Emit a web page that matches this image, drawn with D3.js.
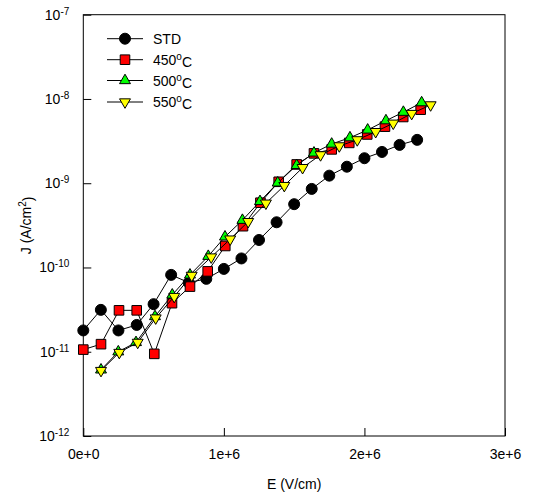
<!DOCTYPE html>
<html>
<head>
<meta charset="utf-8">
<script src="https://cdn.jsdelivr.net/npm/d3@7"></script>
<style>
  body { margin: 0; background: #fff; }
  svg text { font-family: "Liberation Sans", Arial, sans-serif; }
</style>
</head>
<body>
<div id="chart"></div>
<script>
//----------------------------------------------------------------
// data (E in V/cm, J in A/cm2)
var eStd = [0, 1.25e5, 2.5e5, 3.8e5, 5.0e5, 6.25e5, 7.5e5, 8.75e5, 1.0e6, 1.125e6,
            1.25e6, 1.375e6, 1.5e6, 1.625e6, 1.75e6, 1.875e6, 2.0e6, 2.125e6, 2.25e6, 2.375e6];
var jStd = [1.79e-11, 3.14e-11, 1.79e-11, 2.08e-11, 3.67e-11, 8.17e-11, 6.62e-11, 7.33e-11, 9.62e-11, 1.28e-10,
            2.12e-10, 3.44e-10, 5.64e-10, 8.56e-10, 1.23e-9, 1.57e-9, 1.98e-9, 2.35e-9, 2.85e-9, 3.27e-9];

var e450 = [0, 1.26e5, 2.54e5, 3.8e5, 5.05e5, 6.31e5, 7.59e5, 8.85e5, 1.01e6, 1.136e6,
            1.26e6, 1.39e6, 1.518e6, 1.641e6, 1.767e6, 1.892e6, 2.02e6, 2.146e6, 2.276e6, 2.4e6];
var j450 = [1.06e-11, 1.23e-11, 3.10e-11, 3.10e-11, 9.44e-12, 3.77e-11, 5.93e-11, 8.99e-11, 1.80e-10, 3.09e-10,
            5.87e-10, 1.04e-9, 1.67e-9, 2.26e-9, 2.52e-9, 3.01e-9, 3.79e-9, 4.69e-9, 6.11e-9, 7.46e-9];

var e500 = [1.26e5, 2.49e5, 3.75e5, 5.1e5, 6.33e5, 7.59e5, 8.89e5, 1.008e6, 1.132e6, 1.257e6,
            1.383e6, 1.518e6, 1.641e6, 1.767e6, 1.897e6, 2.023e6, 2.153e6, 2.277e6, 2.407e6];
var j500 = [6.10e-12, 1.00e-11, 1.29e-11, 2.62e-11, 4.73e-11, 8.17e-11, 1.36e-10, 2.31e-10, 3.64e-10, 6.08e-10,
            1.01e-9, 1.63e-9, 2.29e-9, 2.92e-9, 3.47e-9, 4.29e-9, 5.53e-9, 6.97e-9, 9.04e-9];

var e550 = [1.26e5, 2.56e5, 3.87e5, 5.15e5, 6.47e5, 7.71e5, 9.1e5, 1.045e6, 1.173e6, 1.299e6,
            1.43e6, 1.56e6, 1.688e6, 1.821e6, 1.949e6, 2.08e6, 2.205e6, 2.336e6, 2.471e6];
var j550 = [5.98e-12, 9.79e-12, 1.29e-11, 2.51e-11, 4.52e-11, 8.05e-11, 1.33e-10, 2.17e-10, 3.50e-10, 5.79e-10,
            9.37e-10, 1.53e-9, 2.17e-9, 2.77e-9, 3.27e-9, 4.09e-9, 5.15e-9, 6.71e-9, 8.49e-9];

var xTicks = [0, 1e6, 2e6, 3e6];
var xTickLabels = ["0e+0", "1e+6", "2e+6", "3e+6"];
var yTicks = [1e-12, 1e-11, 1e-10, 1e-9, 1e-8, 1e-7];
var yTickExp = ["-12", "-11", "-10", "-9", "-8", "-7"];

var seriesNames = ["STD", "450", "500", "550"];

//----------------------------------------------------------------
// svg + scales
var largeur = 533, hauteur = 495;
var svg = d3.select("#chart").append("svg")
    .attr("width", largeur)
    .attr("height", hauteur);

var mLeft = 83.3, mRight = 505, mTop = 14.7, mBottom = 436;

var x = d3.scaleLinear().domain([0, 3e6]).range([mLeft, mRight]);
var y = d3.scaleLog().domain([1e-12, 1e-7]).range([mBottom, mTop]);

//----------------------------------------------------------------
// axes (ticks pointing inward)
var xAxis = d3.axisBottom(x)
    .tickValues(xTicks)
    .tickSize(-8)
    .tickPadding(13)
    .tickFormat(function(d, i) { return xTickLabels[i]; });

var gx = svg.append("g")
    .attr("transform", "translate(0," + mBottom + ")")
    .call(xAxis);
gx.select(".domain").remove();
gx.selectAll("text").style("font-size", "14px").attr("fill", "#000");
gx.selectAll("line").attr("stroke", "#000");

var yAxis = d3.axisLeft(y)
    .tickValues(yTicks)
    .tickSize(-8)
    .tickPadding(14)
    .tickFormat(function() { return ""; });

var gy = svg.append("g")
    .attr("transform", "translate(" + mLeft + ",0)")
    .call(yAxis);
gy.select(".domain").remove();
gy.selectAll("line").attr("stroke", "#000");
gy.selectAll(".tick text").each(function(d, i) {
    var t = d3.select(this).text(null).style("font-size", "14px").attr("fill", "#000");
    t.append("tspan").text("10");
    t.append("tspan").attr("dy", "-0.5em").style("font-size", "10px").text(yTickExp[i]);
});

// frame
svg.append("rect")
    .attr("x", mLeft).attr("y", mTop)
    .attr("width", mRight - mLeft).attr("height", mBottom - mTop)
    .attr("fill", "none").attr("stroke", "#000").attr("stroke-width", 1);

// axis titles
svg.append("text")
    .attr("x", (mLeft + mRight) / 2).attr("y", 489)
    .attr("text-anchor", "middle")
    .style("font-size", "14px")
    .text("E (V/cm)");

var yt = svg.append("text")
    .attr("transform", "translate(31," + ((mTop + mBottom) / 2) + ") rotate(-90)")
    .attr("text-anchor", "middle")
    .style("font-size", "14px");
yt.append("tspan").text("J (A/cm");
yt.append("tspan").attr("dy", "-0.5em").style("font-size", "10px").text("2");
yt.append("tspan").attr("dy", "0.5em").text(")");

//----------------------------------------------------------------
// series
var series = [
  { e: eStd, j: jStd, fill: "#000000", shape: "circle" },
  { e: e450, j: j450, fill: "#ff0000", shape: "square" },
  { e: e500, j: j500, fill: "#00ff00", shape: "up" },
  { e: e550, j: j550, fill: "#ffff00", shape: "down" }
];

function markerPath(shape) {
  if (shape == "circle") return d3.symbol().type(d3.symbolCircle).size(Math.PI * 5.5 * 5.5)();
  if (shape == "square") return d3.symbol().type(d3.symbolSquare).size(92)();
  return d3.symbol().type(d3.symbolTriangle).size(52)();
}
function markerTransform(shape, px, py) {
  if (shape == "down") return "translate(" + px + "," + py + ") rotate(180)";
  return "translate(" + px + "," + py + ")";
}

var line = d3.line()
    .x(function(d) { return x(d[0]); })
    .y(function(d) { return y(d[1]); });

series.forEach(function(s) {
  var pts = s.e.map(function(v, i) { return [v, s.j[i]]; });
  svg.append("path")
    .datum(pts)
    .attr("d", line)
    .attr("fill", "none")
    .attr("stroke", "#000")
    .attr("stroke-width", 1);
  svg.selectAll(null)
    .data(pts)
    .enter()
    .append("path")
    .attr("d", markerPath(s.shape))
    .attr("transform", function(d) { return markerTransform(s.shape, x(d[0]), y(d[1])); })
    .attr("fill", s.fill)
    .attr("stroke", "#000")
    .attr("stroke-width", 1);
});

//----------------------------------------------------------------
// legend
var legRows = [38.7, 59.7, 80.5, 102];
series.forEach(function(s, i) {
  var ly = legRows[i];
  svg.append("line")
    .attr("x1", 107).attr("x2", 143)
    .attr("y1", ly).attr("y2", ly)
    .attr("stroke", "#000");
  svg.append("path")
    .attr("d", markerPath(s.shape))
    .attr("transform", markerTransform(s.shape, 125, ly))
    .attr("fill", s.fill)
    .attr("stroke", "#000");
  var t = svg.append("text")
    .attr("x", 153).attr("y", ly + 5)
    .style("font-size", "14px");
  if (i == 0) {
    t.text(seriesNames[i]);
  } else {
    t.append("tspan").text(seriesNames[i]);
    t.append("tspan").attr("dy", "-0.5em").style("font-size", "10px").text("o");
    t.append("tspan").attr("dy", "0.5em").text("C");
  }
});
</script>
</body>
</html>
